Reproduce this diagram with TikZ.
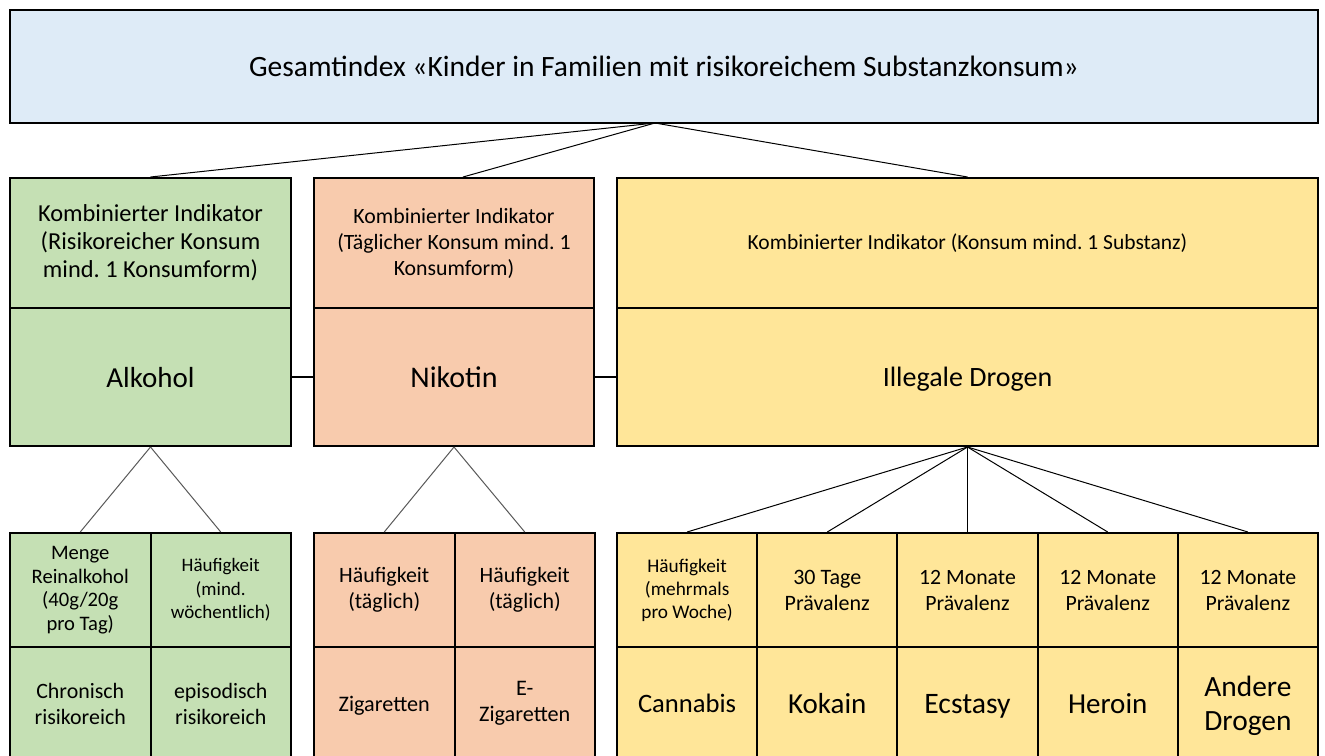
\documentclass[tikz,border=0pt]{standalone}
\usepackage{fontspec}
\setmainfont{Carlito}
\usepackage{xcolor}
\usepackage{tikz}
\usetikzlibrary{positioning}
\definecolor{hellblau}{HTML}{DEEBF7}
\definecolor{hellgruen}{HTML}{C5E0B4}
\definecolor{lachs}{HTML}{F8CBAD}
\definecolor{hellgelb}{HTML}{FFE699}
\newcommand{\fsz}[2]{\fontsize{#1}{#2}\selectfont}
\frenchspacing
\tikzset{
    box/.style = {rectangle, draw=black, line width=2pt, align=center, inner sep=2pt},
    topbox/.style = {box, fill=hellblau, minimum width=1308pt, minimum height=113pt, font=\fsz{29.5}{34}},
    alkbox/.style = {box, fill=hellgruen},
    nikbox/.style = {box, fill=lachs},
    drobox/.style = {box, fill=hellgelb},
}
\begin{document}
\begin{tikzpicture}[x=1pt, y=-1pt]
\tikzset{
    ind/.style = {minimum height=130pt},
    sub/.style = {minimum height=138pt, text depth=0pt},
    cell/.style = {minimum width=140.5pt, minimum height=114pt},
    dcell/.style = {minimum width=140.2pt, minimum height=114pt},
    flat/.style = {text depth=0pt},
    edgen/.style = {-, line width=1pt, black},
    edgeg/.style = {-, line width=1pt, black!65}
}
\clip (0,0) rectangle (1325,755);
\fill[white] (0,0) rectangle (1325,755);
% Gesamtindex
\node[topbox, flat] (gesamt) at (664,66.5) {Gesamtindex «Kinder in Familien mit risikoreichem Substanzkonsum»};
\coordinate (hub) at (655,123);
%
\node[alkbox, ind, minimum width=281pt, font=\fsz{24.4}{28}] (alkind) at (150.5,243) {Kombinierter Indikator\\(Risikoreicher Konsum\\mind. 1 Konsumform)};
\node[nikbox, ind, minimum width=280pt, font=\fsz{21.8}{26}] (nikind) at (454,243) {Kombinierter Indikator\\(Täglicher Konsum mind. 1\\Konsumform)};
\node[drobox, ind, minimum width=701pt, font=\fsz{21.5}{26}] (droind) at (967.5,243) {Kombinierter Indikator (Konsum mind. 1 Substanz)};
%
\node[alkbox, sub, minimum width=281pt, font=\fsz{29}{34}] (alk) at (150.5,377) {Alkohol};
\node[nikbox, sub, minimum width=280pt, font=\fsz{30}{34}] (nik) at (454,377) {Nikotin};
\node[drobox, sub, minimum width=701pt, font=\fsz{28}{34}] (dro) at (967.5,377) {Illegale Drogen};
%
\draw[edgen] (hub) -- (alkind.north);
\draw[edgen] (hub) -- ([xshift=9pt]nikind.north);
\draw[edgen] (hub) -- (droind.north);
\draw[edgen, line width=2pt] (alk) -- (nik);
\draw[edgen, line width=2pt] (nik) -- (dro);
% Alkohol
\node[alkbox, cell, font=\fsz{20.6}{23.5}] (menge) at (80.25,590) {Menge\\Reinalkohol\\(40g/20g\\pro Tag)};
\node[alkbox, cell, font=\fsz{19}{23.5}] (haeufa) at (220.75,590) {Häufigkeit\\(mind.\\wöchentlich)};
\node[alkbox, cell, font=\fsz{21.9}{26}] (chron) at (80.25,703.5) {Chronisch\\risikoreich};
\node[alkbox, cell, font=\fsz{21.9}{26}] (episod) at (220.75,703.5) {episodisch\\risikoreich};
% Nikotin
\node[nikbox, cell, font=\fsz{21.9}{26}] (haeufz) at (384.25,590) {Häufigkeit\\(täglich)};
\node[nikbox, cell, font=\fsz{21.9}{26}] (haeufe) at (524.75,590) {Häufigkeit\\(täglich)};
\node[nikbox, cell, flat, font=\fsz{22.2}{26}] (zig) at (384.25,703.5) {Zigaretten};
\node[nikbox, cell, font=\fsz{22.2}{26}] (ezig) at (524.75,703.5) {E-\\Zigaretten};
% Illegale Drogen
\node[drobox, dcell, font=\fsz{19.3}{23}] (haeufc) at (687.1,590) {Häufigkeit\\(mehrmals\\pro Woche)};
\node[drobox, dcell, font=\fsz{22}{26}] (praek) at (827.3,590) {30 Tage\\Prävalenz};
\node[drobox, dcell, font=\fsz{21.8}{26}] (praee) at (967.5,590) {12 Monate\\Prävalenz};
\node[drobox, dcell, font=\fsz{21.8}{26}] (praeh) at (1107.7,590) {12 Monate\\Prävalenz};
\node[drobox, dcell, font=\fsz{21.8}{26}] (praea) at (1247.9,590) {12 Monate\\Prävalenz};
\node[drobox, dcell, flat, font=\fsz{26.6}{30}] (cann) at (687.1,703.5) {Cannabis};
\node[drobox, dcell, flat, font=\fsz{29}{34}] (kok) at (827.3,703.5) {Kokain};
\node[drobox, dcell, flat, font=\fsz{29.7}{34}] (ecs) at (967.5,703.5) {Ecstasy};
\node[drobox, dcell, flat, font=\fsz{29}{34}] (her) at (1107.7,703.5) {Heroin};
\node[drobox, dcell, flat, font=\fsz{29.4}{34}] (and) at (1247.9,703.5) {Andere\\Drogen};
%
\draw[edgeg] (alk.south) -- (menge.north);
\draw[edgeg] (alk.south) -- (haeufa.north);
\draw[edgeg] (nik.south) -- (haeufz.north);
\draw[edgeg] (nik.south) -- (haeufe.north);
\foreach \n in {haeufc,praek,praee,praeh,praea}
    \draw[edgen] (dro.south) -- (\n.north);
\end{tikzpicture}
\end{document}
